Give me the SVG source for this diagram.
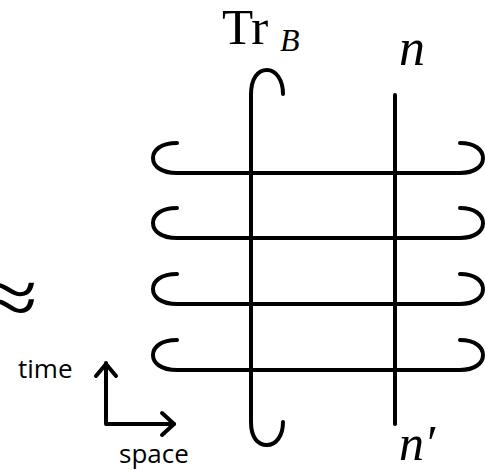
<svg xmlns="http://www.w3.org/2000/svg" width="485" height="471" viewBox="0 0 485 471">
<style>
.s{fill:none;stroke:#000;stroke-width:4;stroke-linecap:round;stroke-linejoin:round}
.m{font-family:"Liberation Serif","DejaVu Serif",serif;fill:#000}
.t{font-family:"Open Sans","Liberation Sans",sans-serif;fill:#000;font-size:26px}
</style>
<rect width="485" height="471" fill="#fff"/>
<g id="approx"><text class="m" x="0" y="0" font-size="82" text-anchor="end" transform="translate(38,325) scale(1.3,1)">≈</text></g>
<g id="trB">
<path class="s" d="M283,94 C283,80 276,70 267,70 C258,70 251,78 251,95 L251,422 C251,438 258,445 267,445 C276,445 283,436 283,422"/>
<text class="m" x="222" y="44" font-size="51">Tr</text>
<text class="m" x="280" y="51" font-size="32" font-style="italic">B</text>
</g>
<g id="n">
<line class="s" x1="395" y1="95" x2="395" y2="424" stroke-linecap="butt"/>
<text class="m" x="399" y="65" font-size="52" font-style="italic">n</text>
<text class="m" x="399" y="460" font-size="50" font-style="italic">n′</text>
</g>
<g id="loops">
<path class="s" d="M177,143 C161,143 153,150 153,158 C153,166 161,173 177,173 L460,173 C475,173 483,166 483,158 C483,150 475,143 460,143"/>
<path class="s" d="M177,208 C161,208 153,215 153,223 C153,231 161,238 177,238 L460,238 C475,238 483,231 483,223 C483,215 475,208 460,208"/>
<path class="s" d="M177,274 C161,274 153,281 153,289 C153,297 161,304 177,304 L460,304 C475,304 483,297 483,289 C483,281 475,274 460,274"/>
<path class="s" d="M177,340 C161,340 153,347 153,355 C153,363 161,370 177,370 L460,370 C475,370 483,363 483,355 C483,347 475,340 460,340"/>
</g>
<g id="axes">
<path class="s" d="M106,363 L106,424 L174,424" stroke-linecap="butt" stroke-linejoin="miter"/>
<path class="s" d="M96,376 L106,364 L116,376"/>
<path class="s" d="M162,413 L174,424 L162,435"/>
<text class="t" x="18" y="378">time</text>
<text class="t" x="119" y="463">space</text>
</g>
</svg>
